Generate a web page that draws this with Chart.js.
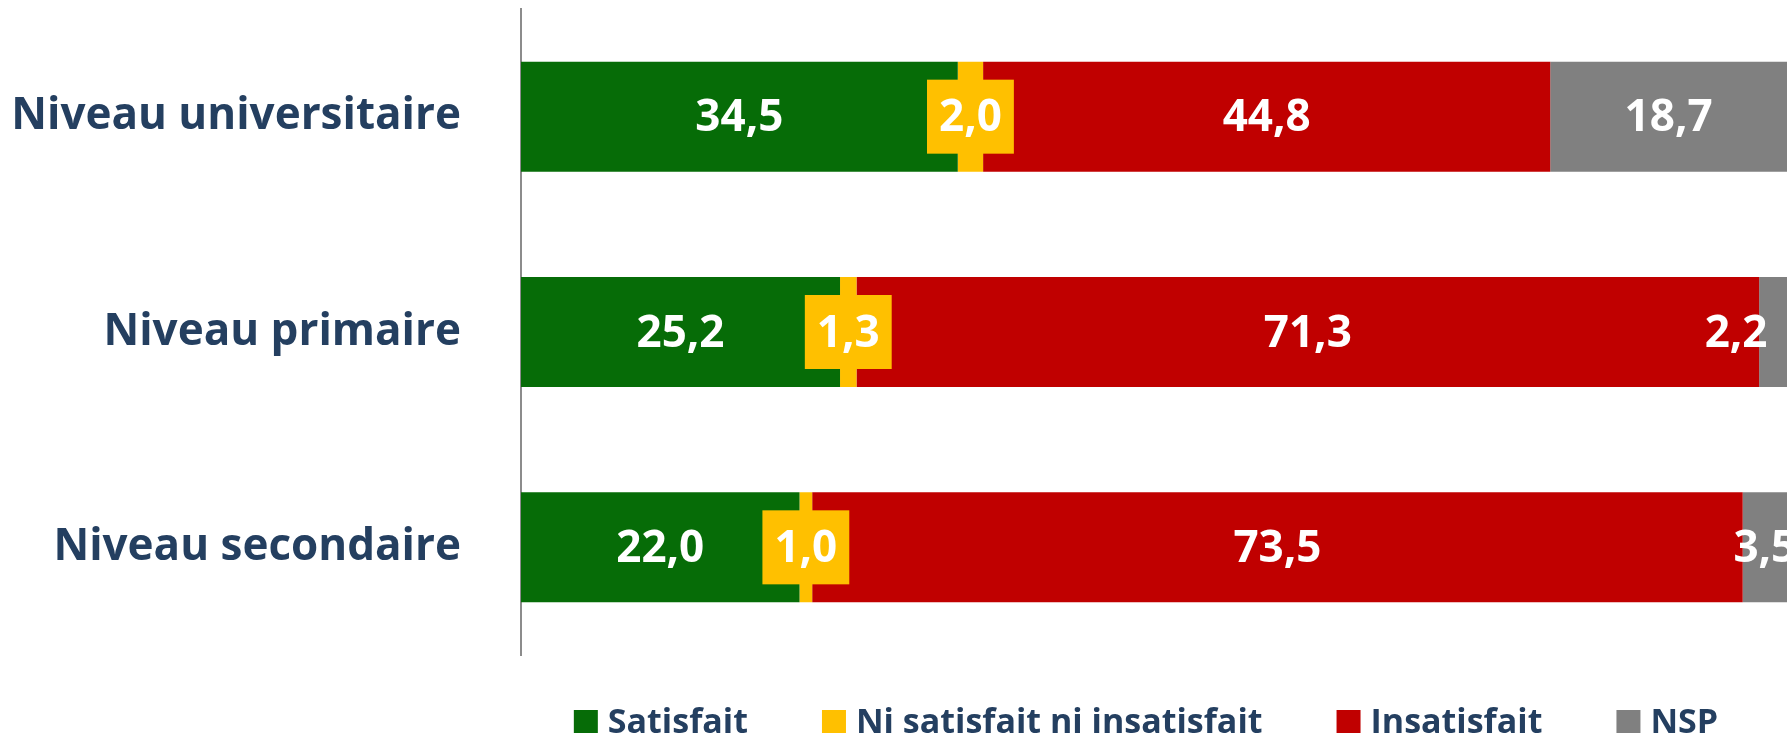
<!DOCTYPE html>
<html>
<head>
<meta charset="utf-8">
<script src="https://cdn.jsdelivr.net/npm/chart.js@4.4.1/dist/chart.umd.min.js"></script>
<style>
  html, body { margin: 0; padding: 0; background: #ffffff; }
  #wrap { width: 1789px; height: 737px; position: relative; }
</style>
</head>
<body>
<div id="wrap"><canvas id="c" width="1789" height="737"></canvas></div>
<script>
const categories = ['Niveau universitaire', 'Niveau primaire', 'Niveau secondaire'];
const seriesNames = ['Satisfait', 'Ni satisfait ni insatisfait', 'Insatisfait', 'NSP'];
const satisfait = [34.5, 25.2, 22.0];
const neutre = [2.0, 1.3, 1.0];
const insatisfait = [44.8, 71.3, 73.5];
const nsp = [18.7, 2.2, 3.5];
const seriesColors = ['#066C07', '#FFC000', '#C00000', '#808080'];

const FONT = "'Open Sans', 'Noto Sans', sans-serif";
const TEXT_COLOR = '#243F60';

function fmt(v) { return v.toFixed(1).replace('.', ','); }

const valueLabels = {
  id: 'valueLabels',
  afterDatasetsDraw(chart, args, opts) {
    const ctx = chart.ctx;
    ctx.save();
    ctx.font = 'bold ' + opts.size + 'px ' + FONT;
    ctx.textAlign = 'center';
    ctx.textBaseline = 'middle';
    chart.data.datasets.forEach((ds, di) => {
      const meta = chart.getDatasetMeta(di);
      meta.data.forEach((el, i) => {
        const v = ds.data[i];
        const shift = (opts.shift[di] && opts.shift[di][i]) || 0;
        const cx = (el.x + el.base) / 2 + shift;
        const cy = el.y;
        const t = fmt(v);
        if (opts.boxed.includes(di)) {
          const w = ctx.measureText(t).width + 24;
          const h = 74;
          ctx.fillStyle = ds.backgroundColor;
          ctx.fillRect(cx - w / 2, cy - h / 2, w, h);
        }
        ctx.fillStyle = '#ffffff';
        ctx.fillText(t, cx, cy + 2);
      });
    });
    ctx.restore();
  }
};

const customLegend = {
  id: 'customLegend',
  afterDraw(chart, args, opts) {
    const ctx = chart.ctx;
    ctx.save();
    ctx.font = 'bold ' + opts.size + 'px ' + FONT;
    ctx.textBaseline = 'middle';
    ctx.textAlign = 'left';
    const items = chart.data.datasets.map(d => ({ text: d.label, color: d.backgroundColor, w: ctx.measureText(d.label).width }));
    const box = 24, gap = 10, itemGap = 74;
    let total = 0;
    items.forEach((it, k) => { total += box + gap + it.w + (k < items.length - 1 ? itemGap : 0); });
    const ca = chart.chartArea;
    let x = (ca.left + ca.right) / 2 - 8 - total / 2;
    const y = opts.y;
    items.forEach(it => {
      ctx.fillStyle = it.color;
      ctx.fillRect(x, y - box / 2, box, box - 1);
      ctx.fillStyle = TEXT_COLOR;
      ctx.fillText(it.text, x + box + gap, y + 1);
      x += box + gap + it.w + itemGap;
    });
    ctx.restore();
  }
};

const dataSets = [satisfait, neutre, insatisfait, nsp].map((arr, k) => ({
  label: seriesNames[k],
  data: arr,
  backgroundColor: seriesColors[k],
  borderWidth: 0,
  barPercentage: 0.511,
  categoryPercentage: 1.0
}));

new Chart(document.getElementById('c'), {
  type: 'bar',
  data: { labels: categories, datasets: dataSets },
  plugins: [valueLabels, customLegend],
  options: {
    indexAxis: 'y',
    responsive: false,
    animation: false,
    layout: { padding: { left: 0, right: 2, top: 9, bottom: 82 } },
    scales: {
      x: { stacked: true, min: 0, max: 100, display: false },
      y: {
        stacked: true,
        grid: { display: false, drawTicks: false },
        border: { display: true, color: '#8C8C8C', width: 2 },
        ticks: {
          padding: 60,
          color: TEXT_COLOR,
          font: { family: FONT, size: 44, weight: 'bold' }
        },
        afterFit(scale) {
          scale.width = 521;
          scale.paddingTop = 0;
          scale.paddingBottom = 0;
        }
      }
    },
    plugins: {
      legend: { display: false },
      tooltip: { enabled: false },
      valueLabels: { size: 44, boxed: [1], shift: { 3: [0, -37, 0] } },
      customLegend: { size: 34, y: 722 }
    }
  }
});
</script>
</body>
</html>
